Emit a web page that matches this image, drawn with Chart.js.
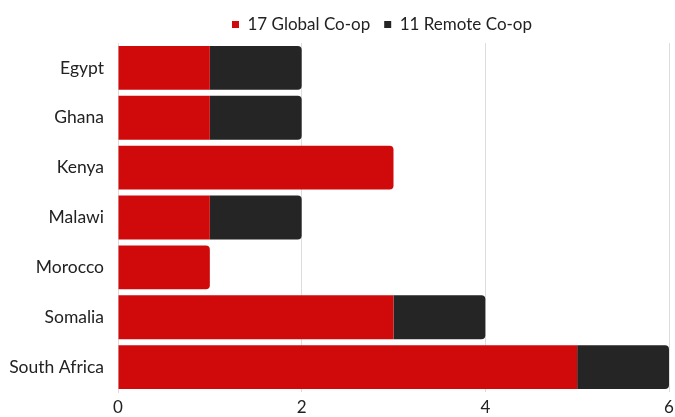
<!DOCTYPE html>
<html>
<head>
<meta charset="utf-8">
<script src="https://cdn.jsdelivr.net/npm/chart.js@4"></script>
<style>
html,body{margin:0;padding:0;background:#fff;}
#wrap{width:675px;height:417px;}
</style>
</head>
<body>
<div id="wrap"><canvas id="c"></canvas></div>
<script>
const categories = ["Egypt","Ghana","Kenya","Malawi","Morocco","Somalia","South Africa"];
const seriesNames = ["17 Global Co-op","11 Remote Co-op"];
const globalCoop = [1,1,3,1,1,3,5];
const remoteCoop = [1,1,0,1,0,1,1];
const xTicks = [0,2,4,6];

Chart.defaults.font.family = "Lato, 'Noto Sans', sans-serif";
Chart.defaults.color = "#222";

// centre the legend over x≈382 like the reference
const legendShift = {
  id: 'legendShift',
  afterLayout(chart) {
    const lg = chart.legend;
    if (!lg) return;
    const dx = 382 - (lg.left + lg.right) / 2;
    lg.left += dx; lg.right += dx;
  }
};

new Chart(document.getElementById('c'), {
  type: 'bar',
  data: {
    labels: categories,
    datasets: [
      {label: seriesNames[0], data: globalCoop, backgroundColor: '#D00A0A', borderRadius: 4, borderSkipped: 'start', barPercentage: 0.88, categoryPercentage: 1},
      {label: seriesNames[1], data: remoteCoop, backgroundColor: '#252525', borderRadius: 4, borderSkipped: 'start', barPercentage: 0.88, categoryPercentage: 1}
    ]
  },
  plugins: [legendShift],
  options: {
    indexAxis: 'y',
    responsive: true,
    maintainAspectRatio: false,
    animation: false,
    layout: {padding: {left: 0, right: 6, top: 2, bottom: 0}},
    plugins: {
      legend: {
        position: 'top',
        labels: {boxWidth: 7, boxHeight: 7, font: {size: 17}, padding: 14, color: '#222'}
      },
      tooltip: {enabled: false}
    },
    scales: {
      x: {
        stacked: true,
        min: 0, max: 6,
        afterBuildTicks: (axis) => { axis.ticks = xTicks.map(v => ({value: v})); },
        afterFit: (axis) => { axis.paddingRight = 0; axis.paddingLeft = 0; axis.height = 25; },
        grid: {color: '#dddddd', drawTicks: false},
        border: {display: false},
        ticks: {font: {size: 17}, color: '#222', padding: 5}
      },
      y: {
        stacked: true,
        afterFit: (axis) => { axis.width = 118; },
        grid: {display: false, drawTicks: false},
        border: {display: true, color: '#dddddd'},
        ticks: {font: {size: 17.5}, color: '#222', padding: 14}
      }
    }
  }
});
</script>
</body>
</html>
